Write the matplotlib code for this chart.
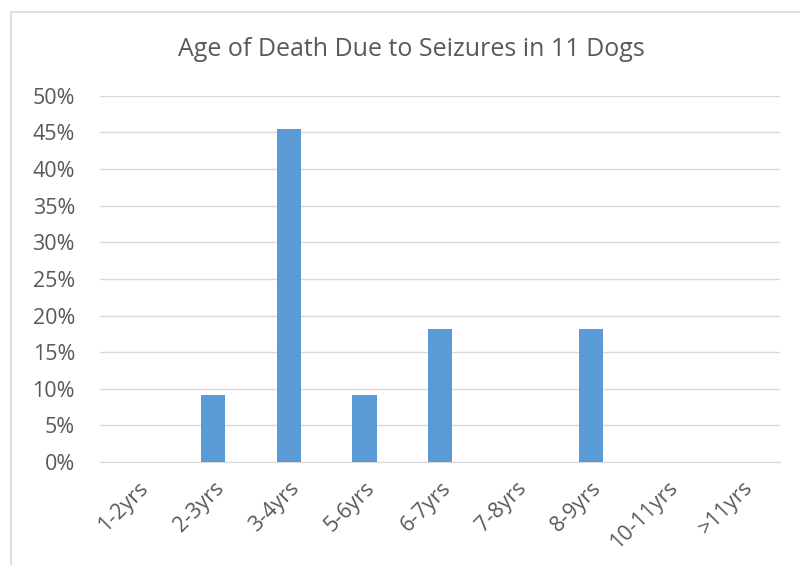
#!/usr/bin/env python3
import matplotlib
matplotlib.use("Agg")
import matplotlib.pyplot as plt
from matplotlib.patches import Rectangle
from matplotlib.ticker import PercentFormatter

# Data: share of 11 dogs by age at death
age_groups = ['1-2yrs', '2-3yrs', '3-4yrs', '5-6yrs', '6-7yrs',
              '7-8yrs', '8-9yrs', '10-11yrs', '>11yrs']
dogs = [0, 1, 5, 1, 2, 0, 2, 0, 0]
total = 11
share = [d / total * 100 for d in dogs]

plt.rcParams['font.family'] = ['Open Sans', 'DejaVu Sans']

fig = plt.figure(figsize=(8, 5.65), dpi=100)
ax = fig.add_axes([0.125, 0.1823, 0.85, 0.648])

# chart border (light grey frame, cut off at right/bottom)
fig.patches.append(Rectangle((11 / 800, -0.05), 1.0, 1 - 12 / 565 + 0.05,
                             transform=fig.transFigure, fill=False,
                             edgecolor='#D9D9D9', linewidth=1.2))

x = range(len(age_groups))
ax.bar(x, share, width=0.32, color='#5B9BD5', zorder=3)

ax.set_xlim(-0.5, len(age_groups) - 0.5)
ax.set_ylim(0, 50)
ax.set_yticks(range(0, 51, 5))
ax.yaxis.set_major_formatter(PercentFormatter(decimals=0))
ax.set_xticks(list(x))
ax.set_xticklabels(age_groups, rotation=45, ha='right', rotation_mode='anchor')

for s in ['top', 'right', 'left']:
    ax.spines[s].set_visible(False)
ax.spines['bottom'].set_color('#D9D9D9')
ax.tick_params(axis='both', length=0, colors='#595959', labelsize=15.5)
ax.tick_params(axis='y', pad=18)
ax.tick_params(axis='x', pad=11)
ax.set_axisbelow(True)
ax.yaxis.grid(True, color='#D9D9D9', linewidth=1)

fig.text(0.514, 0.912, 'Age of Death Due to Seizures in 11 Dogs',
         ha='center', va='center', fontsize=18, color='#595959')

plt.savefig('out.png', dpi=100)
